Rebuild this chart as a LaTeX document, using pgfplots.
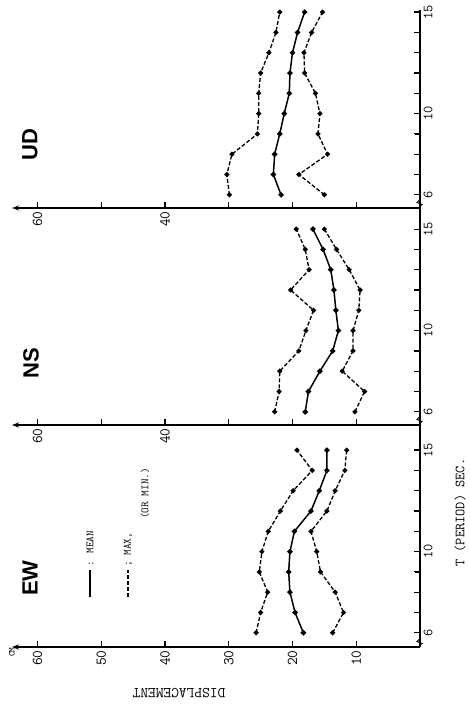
\documentclass[border=0pt]{standalone}
\usepackage{pgfplots}
\pgfplotsset{compat=1.18}
\usepackage{pgfplotstable}
\usepackage{fontspec}
\setsansfont{Liberation Sans}
\usetikzlibrary{arrows.meta}

% displacement (cm) against period T (sec), mean / max / min
\pgfplotstableread{
T  mean  max   min
6  18.3  25.7  13.7
7  19.6  25.0  12.0
8  20.4  23.9  13.3
9  20.6  25.2  15.6
10 20.4  24.8  16.2
11 19.7  23.8  17.1
12 17.1  21.9  14.6
13 15.8  19.9  13.3
14 14.6  16.9  11.8
15 14.6  19.3  11.5
}\ew
\pgfplotstableread{
T  mean  max   min
6  18.0  22.8  10.2
7  17.5  22.1   8.7
8  15.7  22.0  12.2
9  13.7  19.0  10.5
10 12.8  17.9  10.5
11 13.2  16.7   9.6
12 13.5  20.3   9.4
13 14.0  17.4  11.1
14 15.2  18.0  13.1
15 16.8  19.4  15.0
}\ns
\pgfplotstableread{
T  mean  max   min
6  21.8  29.9  15.0
7  23.0  30.3  19.0
8  22.8  29.5  14.5
9  22.0  25.5  16.0
10 21.3  25.3  15.7
11 20.5  25.3  16.4
12 20.4  25.0  18.1
13 20.0  23.7  18.2
14 19.2  22.6  17.0
15 18.1  22.0  15.3
}\ud

\pgfplotsset{
  panel/.style={
    scale only axis, width=408pt,
    xmin=0, xmax=64, x dir=reverse,
    axis x line*=bottom, axis y line*=right,
    xticklabel pos=left, yticklabel pos=right,
    axis line style={line width=1.2pt, black},
    y axis line style={line width=1.8pt, black},
    x axis line style={-{Stealth[length=7pt,width=5pt]}},
    tick style={line width=1.2pt, black},
    major tick length=5pt,
    tick align=inside,
    xtick={10,20,30,40,50,60},
    ytick={6,...,15},
    yticklabels={6,,,,10,,,,,15},
    xticklabel style={rotate=90, anchor=east, font=\ttfamily\fontsize{15}{15}\selectfont},
    yticklabel style={rotate=90, anchor=north, font=\ttfamily\fontsize{14}{14}\selectfont},
    clip=false,
  },
  mn/.style={black, line width=1.5pt, mark=*, mark size=1.9pt},
  mx/.style={black, line width=1.3pt, dash pattern=on 4pt off 2pt, mark=*, mark size=1.8pt, mark options={solid}},
}

% T axis line as a filled strip, its ticks, and the kink at its foot
% #1 foot (pt), #2 T at foot, #3 top (pt)
\newcommand{\tline}[3]{%
  \fill[black] (418.6pt,{(#1+8)*1pt}) rectangle (420.4pt,#3pt);
  \foreach \t in {6,...,15}{
    \fill[black] (414pt,{(#1+(\t-#2)*20.3-0.6)*1pt}) rectangle (420pt,{(#1+(\t-#2)*20.3+0.6)*1pt});
  }
  \foreach \d in {10,20,30,40,50,60}{
    \fill[black] ({(420-6.375*\d-0.6)*1pt},#1pt) rectangle ({(420-6.375*\d+0.6)*1pt},{(#1+5.5)*1pt});
  }
  \draw[black, line width=1pt] (419.5pt,#1pt) -- ++(0,1.5pt) -- ++(2.5pt,2pt) -- ++(-5pt,2pt) -- ++(2.5pt,2.5pt);
}

\begin{document}
\begin{tikzpicture}
\path[use as bounding box] (0,0) rectangle (470pt,710pt);

% UD
\begin{axis}[panel, at={(420pt,502pt)}, anchor=south east,
  height=197.9pt, ymin=5.35, ymax=15.1,
  xticklabels={,,,40,,60}]
\addplot[mn] table[x=mean, y=T] {\ud};
\addplot[mx] table[x=max, y=T] {\ud};
\addplot[mx] table[x=min, y=T] {\ud};
\end{axis}

% NS
\begin{axis}[panel, at={(420pt,285pt)}, anchor=south east,
  height=217pt, ymin=5.35, ymax=16.04,
  xticklabels={,,,40,,60}]
\addplot[mn] table[x=mean, y=T] {\ns};
\addplot[mx] table[x=max, y=T] {\ns};
\addplot[mx] table[x=min, y=T] {\ns};
\end{axis}

% EW
\begin{axis}[panel, at={(420pt,63pt)}, anchor=south east,
  height=222pt, ymin=5.3, ymax=16.24,
  xticklabels={10,20,30,40,50,60}]
\addplot[mn] table[x=mean, y=T] {\ew};
\addplot[mx] table[x=max, y=T] {\ew};
\addplot[mx] table[x=min, y=T] {\ew};
\end{axis}

\tline{502}{5.35}{700}
\tline{285}{5.35}{502}
\tline{63}{5.3}{285}

% panel names
\node[rotate=90, font=\sffamily\bfseries\fontsize{22}{22}\selectfont] at (30pt,565pt) {UD};
\node[rotate=90, font=\sffamily\bfseries\fontsize{22}{22}\selectfont] at (31pt,347pt) {NS};
\node[rotate=90, font=\sffamily\bfseries\fontsize{22}{22}\selectfont] at (30pt,132pt) {EW};

% key
\draw[line width=1.3pt] (90pt,113pt) -- (90pt,140pt);
\node[rotate=90, anchor=west, inner sep=1pt, font=\ttfamily\fontsize{11}{11}\selectfont] at (90pt,142pt) {: MEAN};
\draw[line width=1.3pt, dash pattern=on 4pt off 2pt] (128pt,113pt) -- (128pt,140pt);
\node[rotate=90, anchor=west, inner sep=1pt, font=\ttfamily\fontsize{11}{11}\selectfont] at (128pt,142pt) {; MAX,};
\node[rotate=90, anchor=west, inner sep=1pt, font=\ttfamily\fontsize{11}{11}\selectfont] at (145pt,190pt) {(OR MIN.)};

% axis titles
\node[rotate=90, anchor=west, inner sep=0pt, font=\ttfamily\fontsize{14}{14}\selectfont] at (460pt,143pt) {T (PERIOD) SEC.};
\node[rotate=180, font=\ttfamily\fontsize{15}{15}\selectfont] at (179pt,17pt) {DISPLACEMENT};
\node[rotate=90, font=\ttfamily\fontsize{9}{9}\selectfont] at (12pt,58pt) {CM};
\end{tikzpicture}
\end{document}
